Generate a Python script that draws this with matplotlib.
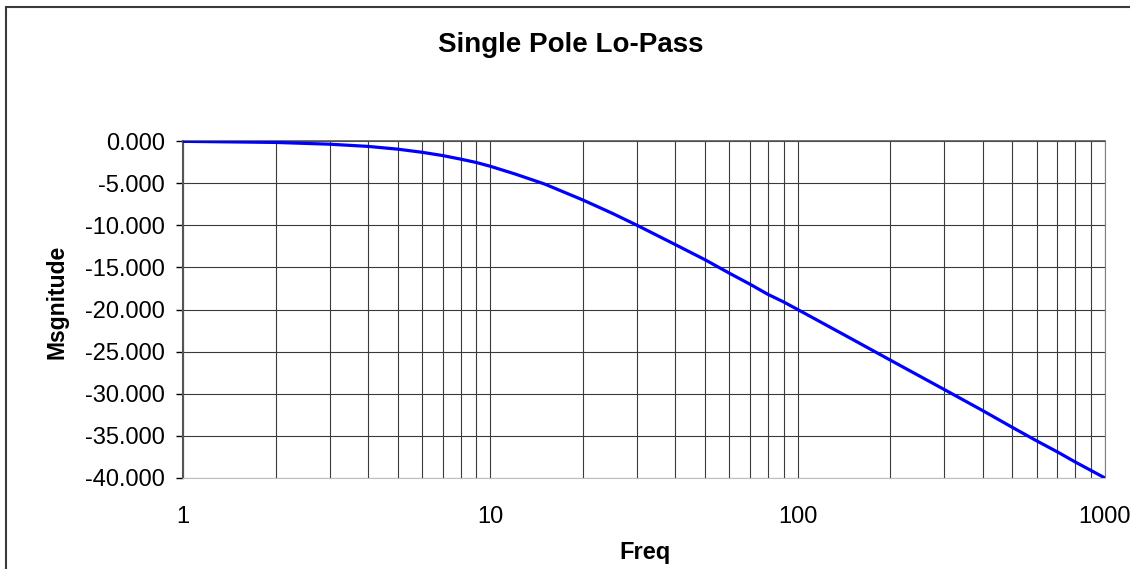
import matplotlib
matplotlib.use("Agg")
import matplotlib.pyplot as plt
from matplotlib.ticker import FixedLocator, NullFormatter, FuncFormatter
from matplotlib.patches import Rectangle

freq = [1, 2, 3, 4, 5, 6, 7, 8, 9, 10, 12, 15, 20, 25, 30, 40, 50, 60, 70, 80, 90,
        100, 150, 200, 300, 400, 500, 600, 700, 800, 900, 1000]
mag = [-0.04, -0.17, -0.38, -0.64, -0.97, -1.34, -1.73, -2.15, -2.55, -3.0, -3.9, -5.1,
       -7.0, -8.6, -10.0, -12.3, -14.1, -15.7, -17.0, -18.2, -19.1, -20.0, -23.5, -26.0,
       -29.5, -32.0, -34.0, -35.6, -36.9, -38.1, -39.1, -40.0]
y_ticks = [0, -5, -10, -15, -20, -25, -30, -35, -40]
x_major = [1, 10, 100, 1000]

plt.rcParams['font.family'] = ['Liberation Sans', 'DejaVu Sans']

W, H = 1130, 569
fig = plt.figure(figsize=(W / 100, H / 100), dpi=100)
ax = fig.add_axes([183 / W, 1 - 478 / H, (1105 - 183) / W, (478 - 141) / H])

# figure border (open to the right/bottom edges like the reference)
fig.patches.append(Rectangle((5.5 / W, -0.05), 1.1, 1 + 0.05 - 6.5 / H, transform=fig.transFigure,
                             fill=False, edgecolor='#3a3a3a', linewidth=1.5))

ax.plot(freq, mag, color='#0000FF', linewidth=2.3, solid_joinstyle='round', zorder=3)
ax.set_xscale('log')
ax.set_xlim(1, 1000)
ax.set_ylim(-40, 0)

minor = [m * d for d in (1, 10, 100) for m in range(2, 10)]
ax.xaxis.set_major_locator(FixedLocator(x_major))
ax.xaxis.set_minor_locator(FixedLocator(minor))
ax.xaxis.set_major_formatter(FuncFormatter(lambda v, p: f"{int(v)}"))
ax.xaxis.set_minor_formatter(NullFormatter())
ax.set_yticks(y_ticks)
ax.yaxis.set_major_formatter(FuncFormatter(lambda v, p: f"{v:.3f}"))

ax.grid(True, which='both', axis='x', color='#3a3a3a', linewidth=0.8)
ax.grid(True, which='major', axis='y', color='#3a3a3a', linewidth=0.8)

ax.tick_params(axis='y', labelsize=17, direction='out', length=5, width=1, colors='black', pad=8)
ax.tick_params(axis='x', which='both', labelsize=17, length=0, pad=20)

ax.spines['left'].set_color('#555555')
ax.spines['left'].set_linewidth(1.5)
ax.spines['top'].set_color('#555555')
ax.spines['top'].set_linewidth(1.2)
ax.spines['right'].set_color('#808080')
ax.spines['bottom'].set_color('#c0c0c0')

fig.text(571 / W, 1 - 45 / H, 'Single Pole Lo-Pass', fontsize=20, fontweight='bold',
         ha='center', va='center')
fig.text(645 / W, 1 - 553 / H, 'Freq', fontsize=17, fontweight='bold', ha='center', va='center')
fig.text(57 / W, 1 - 302 / H, 'Msgnitude', fontsize=16.5, fontweight='bold', ha='center',
         va='center', rotation=90)

fig.savefig('out.png', dpi=100)
